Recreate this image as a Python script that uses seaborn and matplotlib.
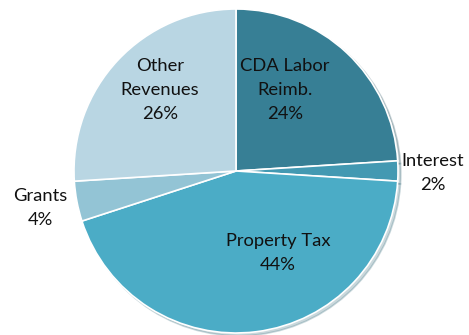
import matplotlib
matplotlib.use("Agg")
import matplotlib.pyplot as plt
import seaborn as sns

categories = ["CDA Labor\nReimb.", "Interest", "Property Tax", "Grants", "Other\nRevenues"]
shares = [24, 2, 44, 4, 26]
pct_labels = ["24%", "2%", "44%", "4%", "26%"]
colors = ["#377F95", "#4399B2", "#4BACC6", "#93C4D5", "#B9D6E3"]

sns.set_theme(style="white")
plt.rcParams['font.family'] = ['Lato', 'DejaVu Sans']

W, H = 469, 335
cx, cy, R = 236, 171, 162
fig = plt.figure(figsize=(W / 100, H / 100), dpi=100)
ax = fig.add_axes([0, 0, 1, 1])

ax.pie(shares, colors=colors, startangle=90, counterclock=False,
       radius=R, center=(cx, H - cy),
       wedgeprops=dict(edgecolor="white", linewidth=1.2),
       shadow=dict(ox=2, oy=-2, shade=0.4, alpha=0.25), frame=False)

# label anchor positions (pixels from top-left)
label_pos = [(285, 90), (433, 173), (278, 253), (40, 208), (160, 90)]
for cat, pct, (px, py) in zip(categories, pct_labels, label_pos):
    ax.text(px, H - py, f"{cat}\n{pct}", ha="center", va="center",
            fontsize=13.2, color="#111111", linespacing=1.6)

ax.set_xlim(0, W)
ax.set_ylim(0, H)
ax.set_aspect("equal")
ax.axis("off")
fig.savefig("out.png", dpi=100, facecolor="white")
